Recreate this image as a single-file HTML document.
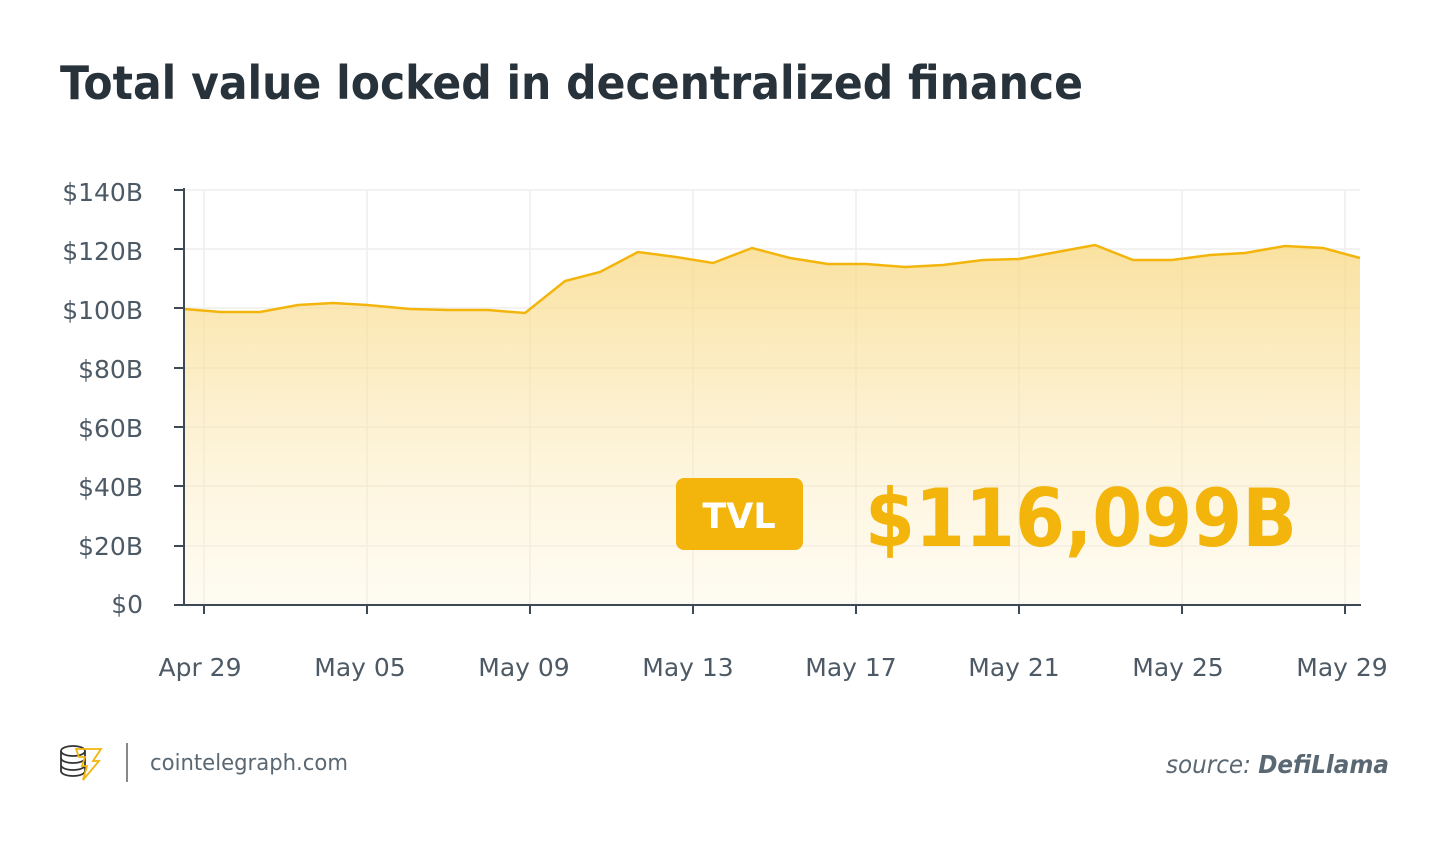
<!DOCTYPE html>
<html><head><style>
body{margin:0;width:1450px;height:843px;background:#fff;overflow:hidden;font-family:"Liberation Sans","DejaVu Sans",sans-serif;}
</style></head><body>
<svg width="1450" height="843" xmlns="http://www.w3.org/2000/svg" style="position:absolute;left:0;top:0">
<defs><linearGradient id="g" x1="0" y1="0" x2="0" y2="1">
<stop offset="0" stop-color="#f8d77f" stop-opacity="0.75"/>
<stop offset="1" stop-color="#fdf3d4" stop-opacity="0.3"/></linearGradient></defs>
<text x="60" y="99" font-size="46" font-weight="bold" fill="#27323a" font-family="DejaVu Sans, sans-serif" textLength="1023" lengthAdjust="spacingAndGlyphs">Total value locked in decentralized finance</text>
<g stroke="#eeeeee" stroke-width="1.5">
<line x1="184" y1="190" x2="1360" y2="190"/><line x1="184" y1="249" x2="1360" y2="249"/>
<line x1="184" y1="308" x2="1360" y2="308"/><line x1="184" y1="368" x2="1360" y2="368"/>
<line x1="184" y1="427" x2="1360" y2="427"/><line x1="184" y1="486" x2="1360" y2="486"/>
<line x1="184" y1="546" x2="1360" y2="546"/>
<line x1="204" y1="190" x2="204" y2="605"/><line x1="367" y1="190" x2="367" y2="605"/>
<line x1="530" y1="190" x2="530" y2="605"/><line x1="693" y1="190" x2="693" y2="605"/>
<line x1="856" y1="190" x2="856" y2="605"/><line x1="1019" y1="190" x2="1019" y2="605"/>
<line x1="1182" y1="190" x2="1182" y2="605"/><line x1="1345" y1="190" x2="1345" y2="605"/>
</g>
<path d="M184,309 L221,312 L260,312 L298,305 L333,303 L367,305 L410,309 L448,310 L488,310 L525,313 L565,281 L600,272 L638,252 L676,257 L713,263 L752,248 L790,258 L828,264 L866,264 L905,267 L943,265 L983,260 L1019,259 L1057,252 L1095,245 L1133,260 L1172,260 L1210,255 L1245,253 L1285,246 L1323,248 L1360,258 L1360,605 L184,605 Z" fill="url(#g)"/>
<path d="M184,309 L221,312 L260,312 L298,305 L333,303 L367,305 L410,309 L448,310 L488,310 L525,313 L565,281 L600,272 L638,252 L676,257 L713,263 L752,248 L790,258 L828,264 L866,264 L905,267 L943,265 L983,260 L1019,259 L1057,252 L1095,245 L1133,260 L1172,260 L1210,255 L1245,253 L1285,246 L1323,248 L1360,258" fill="none" stroke="#f3b50c" stroke-width="2.5"/>
<g stroke="#3d4a55" stroke-width="2">
<line x1="184" y1="188" x2="184" y2="606"/><line x1="183" y1="605" x2="1361" y2="605"/>
<line x1="174" y1="190" x2="184" y2="190"/><line x1="174" y1="249" x2="184" y2="249"/>
<line x1="174" y1="308" x2="184" y2="308"/><line x1="174" y1="368" x2="184" y2="368"/>
<line x1="174" y1="427" x2="184" y2="427"/><line x1="174" y1="486" x2="184" y2="486"/>
<line x1="174" y1="546" x2="184" y2="546"/><line x1="174" y1="605" x2="184" y2="605"/>
<line x1="204" y1="605" x2="204" y2="614"/><line x1="367" y1="605" x2="367" y2="614"/>
<line x1="530" y1="605" x2="530" y2="614"/><line x1="693" y1="605" x2="693" y2="614"/>
<line x1="856" y1="605" x2="856" y2="614"/><line x1="1019" y1="605" x2="1019" y2="614"/>
<line x1="1182" y1="605" x2="1182" y2="614"/><line x1="1345" y1="605" x2="1345" y2="614"/>
</g>
<g font-size="25" fill="#4d5a65" text-anchor="end" font-family="DejaVu Sans, sans-serif">
<text x="143" y="201">$140B</text><text x="143" y="260">$120B</text><text x="143" y="319">$100B</text>
<text x="143" y="378">$80B</text><text x="143" y="437">$60B</text><text x="143" y="496">$40B</text>
<text x="143" y="555">$20B</text><text x="143" y="613">$0</text>
</g>
<g font-size="25" fill="#4d5a65" text-anchor="middle" font-family="DejaVu Sans, sans-serif">
<text x="200" y="676">Apr 29</text><text x="360" y="676">May 05</text><text x="524" y="676">May 09</text>
<text x="688" y="676">May 13</text><text x="851" y="676">May 17</text><text x="1014" y="676">May 21</text>
<text x="1178" y="676">May 25</text><text x="1342" y="676">May 29</text>
</g>
<rect x="676" y="478" width="127" height="72" rx="8" fill="#f3b50c"/>
<text x="739" y="528" font-size="35" font-weight="bold" fill="#fff" text-anchor="middle" font-family="DejaVu Sans, sans-serif">TVL</text>
<text x="865" y="546" font-size="80" font-weight="bold" fill="#f3b50c" font-family="DejaVu Sans, sans-serif" textLength="432" lengthAdjust="spacingAndGlyphs">$116,099B</text>
<g fill="none" stroke="#333" stroke-width="1.8">
<ellipse cx="73" cy="751" rx="12" ry="5"/><path d="M61,751 v20 a12,5 0 0 0 24,0 v-20"/>
<path d="M61,758 a12,5 0 0 0 24,0"/><path d="M61,765 a12,5 0 0 0 24,0"/>
</g>
<path d="M76,749 h25 l-8,12 h6 l-16,19 l4,-14 h-5 l3,-9 h-6 z" fill="none" stroke="#f3b50c" stroke-width="1.8"/>
<line x1="127" y1="743" x2="127" y2="782" stroke="#888" stroke-width="2"/>
<text x="150" y="770" font-size="22" fill="#5a6873" font-family="DejaVu Sans, sans-serif" textLength="198" lengthAdjust="spacingAndGlyphs">cointelegraph.com</text>
<text x="1166" y="773" font-size="25" fill="#5a6873" font-family="DejaVu Sans, sans-serif" font-style="oblique" textLength="223" lengthAdjust="spacingAndGlyphs"><tspan>source: </tspan><tspan font-weight="bold">DefiLlama</tspan></text>
</svg>
</body></html>
